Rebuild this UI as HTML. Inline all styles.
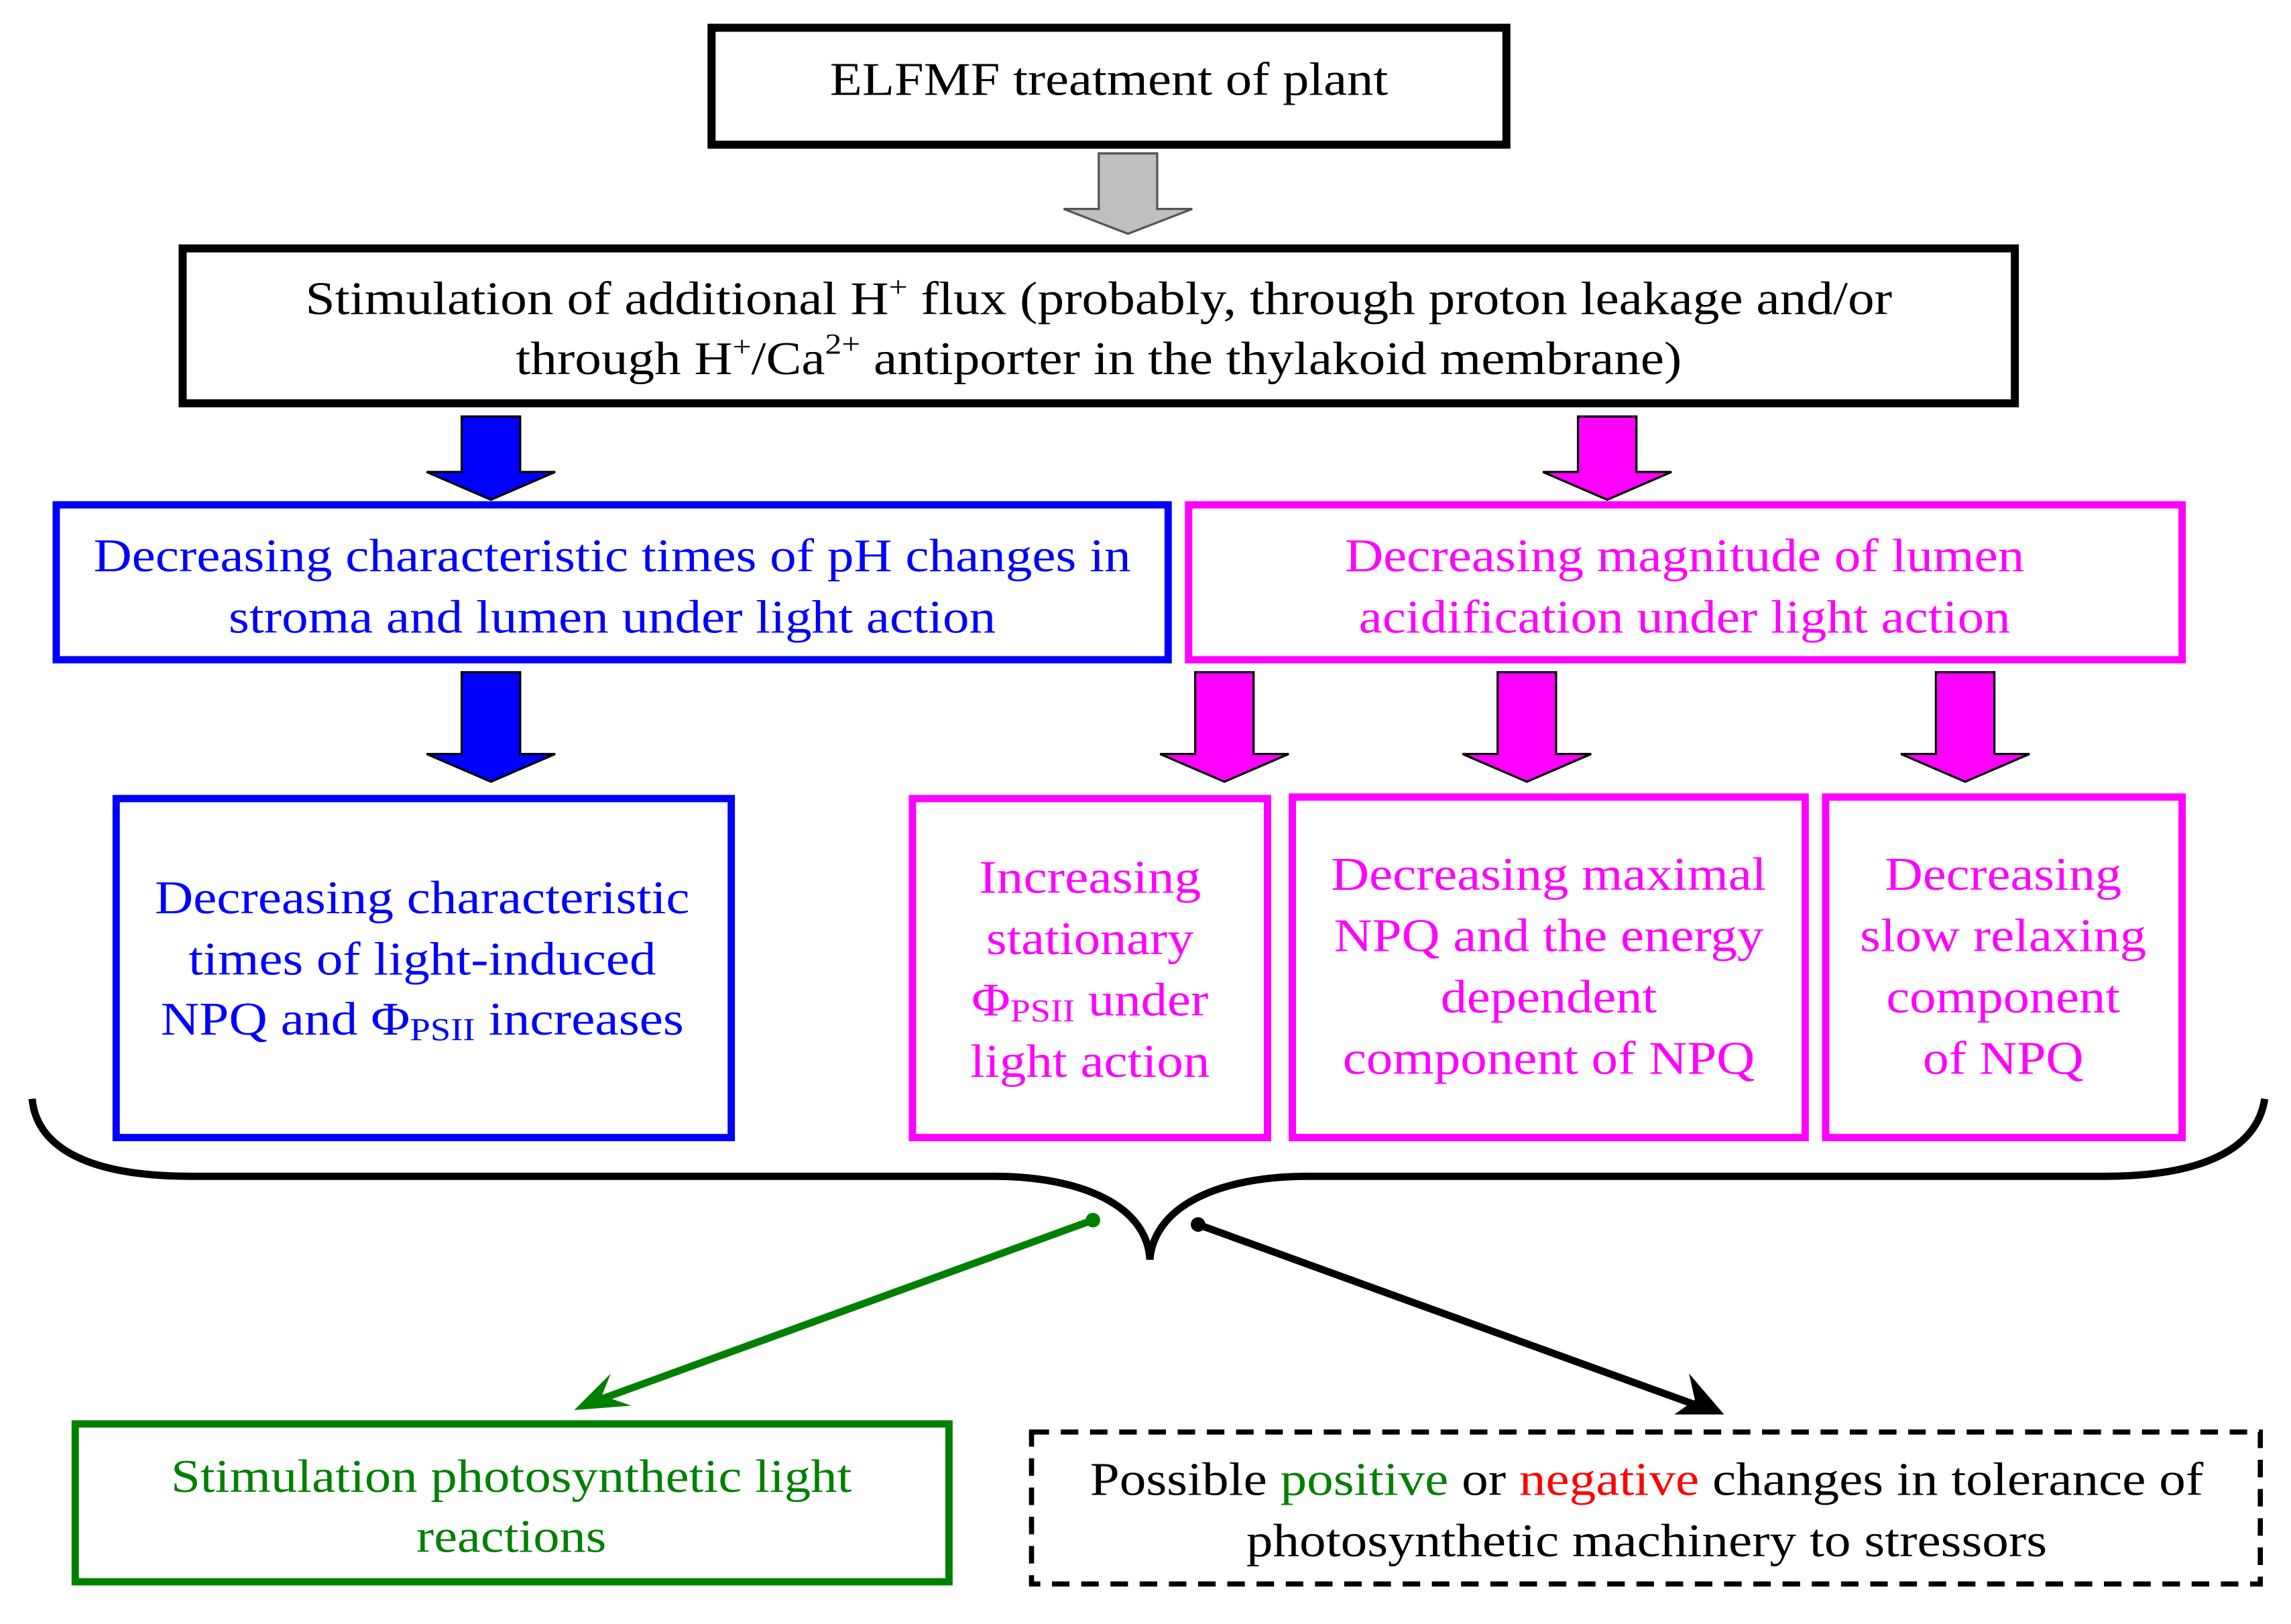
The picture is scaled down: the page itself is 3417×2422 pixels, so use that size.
<!DOCTYPE html>
<html><head><meta charset="utf-8"><style>html,body{margin:0;padding:0;background:#fff}svg{display:block}text{font-family:"Liberation Serif","Times New Roman",serif}</style></head><body>
<svg width="3417" height="2422" viewBox="0 0 1568 1111.4" preserveAspectRatio="none" xmlns="http://www.w3.org/2000/svg" font-family="'Liberation Serif', serif" font-size="32" text-anchor="middle">
<!-- box 1 -->
<rect x="487" y="19" width="544" height="80" fill="none" stroke="#000" stroke-width="5.5"/>
<text x="759" y="65" textLength="382" lengthAdjust="spacingAndGlyphs">ELFMF treatment of plant</text>
<!-- gray arrow -->
<path d="M752,105 H792 V143 H816 L772,160 L728,143 H752Z" fill="#bfbfbf" stroke="#555" stroke-width="1.5"/>
<!-- box 2 -->
<rect x="125" y="170" width="1254" height="106" fill="none" stroke="#000" stroke-width="5.5"/>
<text x="752" y="215" textLength="1086" lengthAdjust="spacingAndGlyphs">Stimulation of additional H<tspan font-size="20" dy="-12">+</tspan><tspan dy="12"> flux (probably, through proton leakage and/or</tspan></text>
<text x="752" y="256" textLength="798" lengthAdjust="spacingAndGlyphs">through H<tspan font-size="20" dy="-12">+</tspan><tspan dy="12">/Ca</tspan><tspan font-size="20" dy="-14">2+</tspan><tspan dy="14"> antiporter in the thylakoid membrane)</tspan></text>
<!-- arrows level 2 -->
<path d="M316,285 H356 V323 H380 L336,342 L292,323 H316Z" fill="#0000ff" stroke="#000" stroke-width="1.5"/>
<path d="M1080,285 H1120 V323 H1144 L1100,342 L1056,323 H1080Z" fill="#ff00ff" stroke="#000" stroke-width="1.5"/>
<!-- level 2 boxes -->
<rect x="38.5" y="345.5" width="761" height="106" fill="none" stroke="#0000ff" stroke-width="5"/>
<text x="419" y="391" fill="#0000ff" textLength="710" lengthAdjust="spacingAndGlyphs">Decreasing characteristic times of pH changes in</text>
<text x="419" y="433" fill="#0000ff" textLength="525" lengthAdjust="spacingAndGlyphs">stroma and lumen under light action</text>
<rect x="813.5" y="345.5" width="680" height="106" fill="none" stroke="#ff00ff" stroke-width="5"/>
<text x="1153" y="391" fill="#ff00ff" textLength="465" lengthAdjust="spacingAndGlyphs">Decreasing magnitude of lumen</text>
<text x="1153" y="433" fill="#ff00ff" textLength="446" lengthAdjust="spacingAndGlyphs">acidification under light action</text>
<!-- arrows level 3 -->
<path d="M316,460 H356 V516 H380 L336,535 L292,516 H316Z" fill="#0000ff" stroke="#000" stroke-width="1.5"/>
<path d="M818,460 H858 V516 H882 L838,535 L794,516 H818Z" fill="#ff00ff" stroke="#000" stroke-width="1.5"/>
<path d="M1025,460 H1065 V516 H1089 L1045,535 L1001,516 H1025Z" fill="#ff00ff" stroke="#000" stroke-width="1.5"/>
<path d="M1325,460 H1365 V516 H1389 L1345,535 L1301,516 H1325Z" fill="#ff00ff" stroke="#000" stroke-width="1.5"/>
<!-- level 3 boxes -->
<rect x="79.5" y="546.5" width="421" height="232" fill="none" stroke="#0000ff" stroke-width="5"/>
<text x="289" y="625" fill="#0000ff" textLength="366" lengthAdjust="spacingAndGlyphs">Decreasing characteristic</text>
<text x="289" y="667" fill="#0000ff" textLength="320" lengthAdjust="spacingAndGlyphs">times of light-induced</text>
<text x="289" y="708" fill="#0000ff" textLength="358" lengthAdjust="spacingAndGlyphs">NPQ and Φ<tspan font-size="22" dy="4">PSII</tspan><tspan dy="-4"> increases</tspan></text>
<rect x="624.5" y="546.5" width="243" height="232" fill="none" stroke="#ff00ff" stroke-width="5"/>
<text x="746" y="611" fill="#ff00ff" textLength="152" lengthAdjust="spacingAndGlyphs">Increasing</text>
<text x="746" y="653" fill="#ff00ff" textLength="142" lengthAdjust="spacingAndGlyphs">stationary</text>
<text x="746" y="695" fill="#ff00ff" textLength="162" lengthAdjust="spacingAndGlyphs">Φ<tspan font-size="22" dy="4">PSII</tspan><tspan dy="-4"> under</tspan></text>
<text x="746" y="737" fill="#ff00ff" textLength="164" lengthAdjust="spacingAndGlyphs">light action</text>
<rect x="884.5" y="545.5" width="351" height="233" fill="none" stroke="#ff00ff" stroke-width="5"/>
<text x="1060" y="609" fill="#ff00ff" textLength="298" lengthAdjust="spacingAndGlyphs">Decreasing maximal</text>
<text x="1060" y="651" fill="#ff00ff" textLength="294" lengthAdjust="spacingAndGlyphs">NPQ and the energy</text>
<text x="1060" y="693" fill="#ff00ff" textLength="148" lengthAdjust="spacingAndGlyphs">dependent</text>
<text x="1060" y="735" fill="#ff00ff" textLength="282" lengthAdjust="spacingAndGlyphs">component of NPQ</text>
<rect x="1249.5" y="545.5" width="244" height="233" fill="none" stroke="#ff00ff" stroke-width="5"/>
<text x="1371" y="609" fill="#ff00ff" textLength="162" lengthAdjust="spacingAndGlyphs">Decreasing</text>
<text x="1371" y="651" fill="#ff00ff" textLength="196" lengthAdjust="spacingAndGlyphs">slow relaxing</text>
<text x="1371" y="693" fill="#ff00ff" textLength="160" lengthAdjust="spacingAndGlyphs">component</text>
<text x="1371" y="735" fill="#ff00ff" textLength="110" lengthAdjust="spacingAndGlyphs">of NPQ</text>
<!-- brace -->
<path d="M22,752 C25,785 60,805 130,805 L680,805 C740,805 785,825 787,862 C790,825 835,805 895,805 L1440,805 C1510,805 1545,785 1550,752" fill="none" stroke="#000" stroke-width="5"/>
<!-- connectors -->
<circle cx="748" cy="835" r="5" fill="#008000"/>
<line x1="748" y1="835" x2="410" y2="958" stroke="#008000" stroke-width="5"/>
<path d="M393,965 L418,940 L412,955 L432,962Z" fill="#008000"/>
<circle cx="820" cy="838" r="5" fill="#000"/>
<line x1="820" y1="838" x2="1162" y2="962" stroke="#000" stroke-width="5"/>
<path d="M1180,968 L1146,968 L1160,958 L1156,940Z" fill="#000"/>
<!-- bottom boxes -->
<rect x="51.5" y="974.5" width="598" height="108" fill="none" stroke="#008000" stroke-width="5"/>
<text x="350" y="1021" fill="#008000" textLength="466" lengthAdjust="spacingAndGlyphs">Stimulation photosynthetic light</text>
<text x="350" y="1062" fill="#008000" textLength="130" lengthAdjust="spacingAndGlyphs">reactions</text>
<rect x="706" y="980" width="841" height="104" fill="none" stroke="#000" stroke-width="3.5" stroke-dasharray="12,8"/>
<text x="1127" y="1023" textLength="762" lengthAdjust="spacingAndGlyphs">Possible <tspan fill="#008000">positive</tspan> or <tspan fill="#ff0000">negative</tspan> changes in tolerance of</text>
<text x="1127" y="1065" textLength="548" lengthAdjust="spacingAndGlyphs">photosynthetic machinery to stressors</text>
</svg>
</body></html>
